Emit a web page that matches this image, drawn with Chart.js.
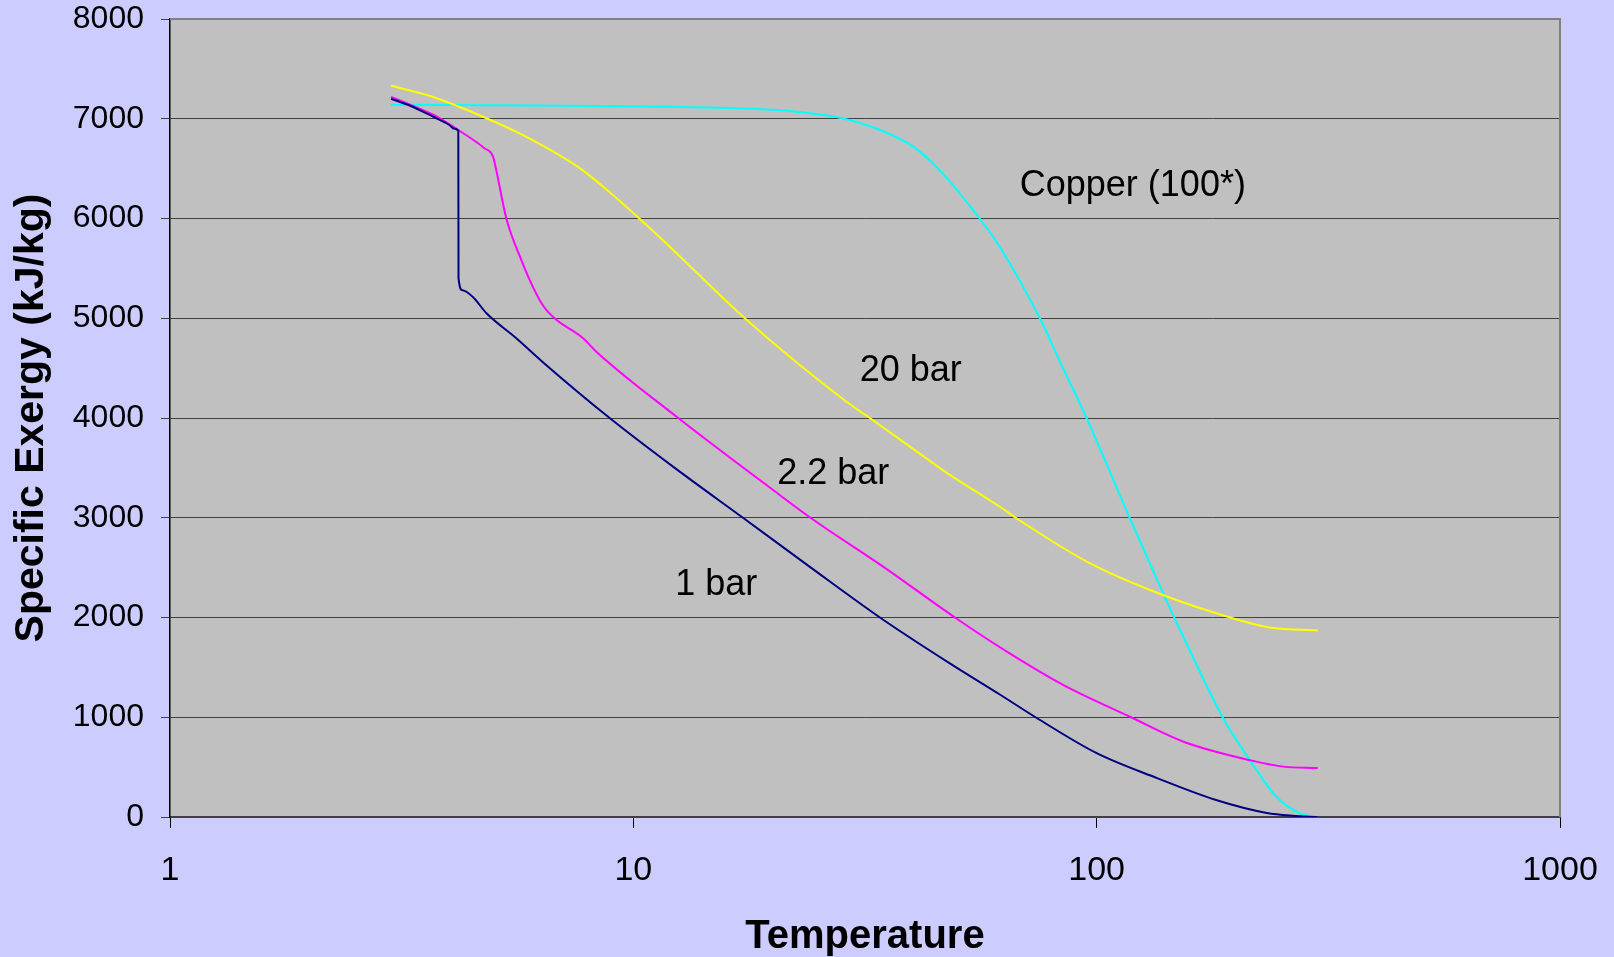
<!DOCTYPE html>
<html lang="en">
<head>
    <meta charset="UTF-8">
    <title>Specific Exergy vs Temperature</title>
    <script src="https://cdn.jsdelivr.net/npm/chart.js"></script>
    <style>
        body {
            margin: 0;
            background: #CCCCFF;
            font-family: "Liberation Sans", Arial, sans-serif;
        }
        .wrap {
            width: 1614px;
            height: 957px;
            position: relative;
        }
    </style>
</head>
<body>
    <div class="wrap">
        <canvas id="exergyChart"></canvas>
    </div>

    <script>
        // values (temperature, specific exergy kJ/kg)
        const temp1bar = [3, 3.3, 3.7, 4.0, 4.11, 4.19, 4.195, 4.28, 4.5, 4.82, 5.59, 6.38, 8.89, 12.2, 17.3, 24, 34.3, 48.2, 61.8, 74.1, 100, 135, 181, 233, 265, 300];
        const exergy1bar = [7200, 7130, 7020, 6940, 6900, 6880, 5400, 5280, 5215, 5050, 4800, 4560, 4000, 3510, 2995, 2510, 1990, 1540, 1228, 995, 640, 390, 170, 40, 12, 0];

        const temp22bar = [3, 3.3, 3.7, 4.18, 4.77, 4.98, 5.06, 5.32, 5.73, 6.07, 6.4, 6.76, 7.79, 8.32, 12.5, 20, 24.2, 34.6, 49.8, 64.9, 84.6, 118, 154, 214, 253, 300];
        const exergy22bar = [7220, 7140, 7040, 6890, 6705, 6620, 6485, 6000, 5585, 5315, 5120, 5000, 4800, 4665, 4000, 3280, 2995, 2510, 1990, 1640, 1325, 1005, 755, 570, 505, 490];

        const temp20bar = [3, 3.63, 4.82, 5.78, 7.66, 8.6, 10.3, 12, 17.4, 28.8, 32.4, 44.4, 48.2, 61.8, 67.1, 96.6, 139, 191, 236, 300];
        const exergy20bar = [7330, 7230, 7005, 6835, 6505, 6320, 6000, 5715, 5000, 4165, 4000, 3545, 3430, 3110, 2995, 2545, 2225, 2010, 1900, 1870];

        const tempCopper = [3, 7.3, 12, 20, 27.9, 34, 40.2, 45.8, 55.9, 61.8, 75.4, 84.6, 95.1, 117.9, 139.1, 153.7, 187.5, 214, 244, 274.5, 300];
        const exergyCopper = [7140, 7130, 7120, 7090, 7010, 6890, 6720, 6485, 6000, 5715, 5000, 4500, 4000, 2995, 2245, 1810, 990, 570, 205, 37, 0];

        const xTicks = [1, 10, 100, 1000];

        // curve labels: [text, temperature, exergy]
        const curveLabels = [
            ['Copper (100*)', 119.7, 6324],
            ['20 bar', 39.7, 4466],
            ['2.2 bar', 27.0, 3435],
            ['1 bar', 15.1, 2325]
        ];

        const FONT = '"Liberation Sans", Arial, sans-serif';

        function toPoints(xs, ys) {
            return xs.map((x, i) => ({ x: x, y: ys[i] }));
        }

        function series(label, xs, ys, color) {
            return {
                label: label,
                data: toPoints(xs, ys),
                borderColor: color,
                backgroundColor: color,
                borderWidth: 2,
                pointRadius: 0,
                cubicInterpolationMode: 'monotone',
                fill: false
            };
        }

        const plotDecor = {
            id: 'plotDecor',
            beforeDraw(chart) {
                const a = chart.chartArea;
                const ctx = chart.ctx;
                ctx.save();
                ctx.fillStyle = '#C0C0C0';
                ctx.fillRect(a.left, a.top, a.right - a.left, a.bottom - a.top);
                ctx.restore();
            },
            afterDatasetsDraw(chart) {
                const ctx = chart.ctx;
                const xs = chart.scales.x;
                const ys = chart.scales.y;
                ctx.save();
                ctx.fillStyle = '#000';
                ctx.font = '36px ' + FONT;
                ctx.textAlign = 'center';
                ctx.textBaseline = 'middle';
                curveLabels.forEach(([text, t, e]) => {
                    ctx.fillText(text, xs.getPixelForValue(t), ys.getPixelForValue(e));
                });
                ctx.restore();
            },
            afterDraw(chart) {
                const a = chart.chartArea;
                const ctx = chart.ctx;
                ctx.save();
                ctx.strokeStyle = '#808080';
                ctx.lineWidth = 2;
                ctx.beginPath();
                ctx.moveTo(a.left, a.top);
                ctx.lineTo(a.right, a.top);
                ctx.lineTo(a.right, a.bottom);
                ctx.stroke();
                ctx.restore();
            }
        };

        const ctx = document.getElementById('exergyChart').getContext('2d');
        new Chart(ctx, {
            type: 'line',
            data: {
                datasets: [
                    series('1 bar', temp1bar, exergy1bar, '#000080'),
                    series('2.2 bar', temp22bar, exergy22bar, '#FF00FF'),
                    series('20 bar', temp20bar, exergy20bar, '#FFFF00'),
                    series('Copper (100*)', tempCopper, exergyCopper, '#00FFFF')
                ]
            },
            options: {
                responsive: true,
                maintainAspectRatio: false,
                animation: false,
                layout: {
                    padding: { top: 19, right: 54, left: 0, bottom: 0 }
                },
                plugins: {
                    legend: { display: false },
                    tooltip: { enabled: false }
                },
                scales: {
                    x: {
                        type: 'logarithmic',
                        min: 1,
                        max: 1000,
                        afterBuildTicks: axis => {
                            axis.ticks = xTicks.map(v => ({ value: v }));
                        },
                        afterFit: scale => {
                            scale.height = 140;
                            scale.paddingLeft = 0;
                            scale.paddingRight = 0;
                        },
                        grid: {
                            drawOnChartArea: false,
                            drawTicks: true,
                            tickLength: 11,
                            color: '#000'
                        },
                        border: { color: '#404040', width: 2 },
                        ticks: {
                            autoSkip: false,
                            maxRotation: 0,
                            padding: 22,
                            color: '#000',
                            font: { family: FONT, size: 34, lineHeight: 1.2 },
                            callback: v => String(v)
                        },
                        title: {
                            display: true,
                            text: 'Temperature',
                            color: '#000',
                            font: { family: FONT, size: 40, weight: 'bold', lineHeight: 1 },
                            padding: { top: 0, bottom: 0 }
                        }
                    },
                    y: {
                        min: 0,
                        max: 8000,
                        afterFit: scale => {
                            scale.width = 170;
                            scale.paddingTop = 0;
                            scale.paddingBottom = 0;
                        },
                        grid: {
                            color: '#404040',
                            lineWidth: 1,
                            tickLength: 9
                        },
                        border: { color: '#000', width: 1.5 },
                        ticks: {
                            stepSize: 1000,
                            padding: 17,
                            color: '#000',
                            font: { family: FONT, size: 32 },
                            callback: v => String(v)
                        },
                        title: {
                            display: true,
                            text: 'Specific Exergy (kJ/kg)',
                            color: '#000',
                            font: { family: FONT, size: 41, weight: 'bold', lineHeight: 1 },
                            padding: { top: 11, bottom: 0 }
                        }
                    }
                }
            },
            plugins: [plotDecor]
        });
    </script>
</body>
</html>
